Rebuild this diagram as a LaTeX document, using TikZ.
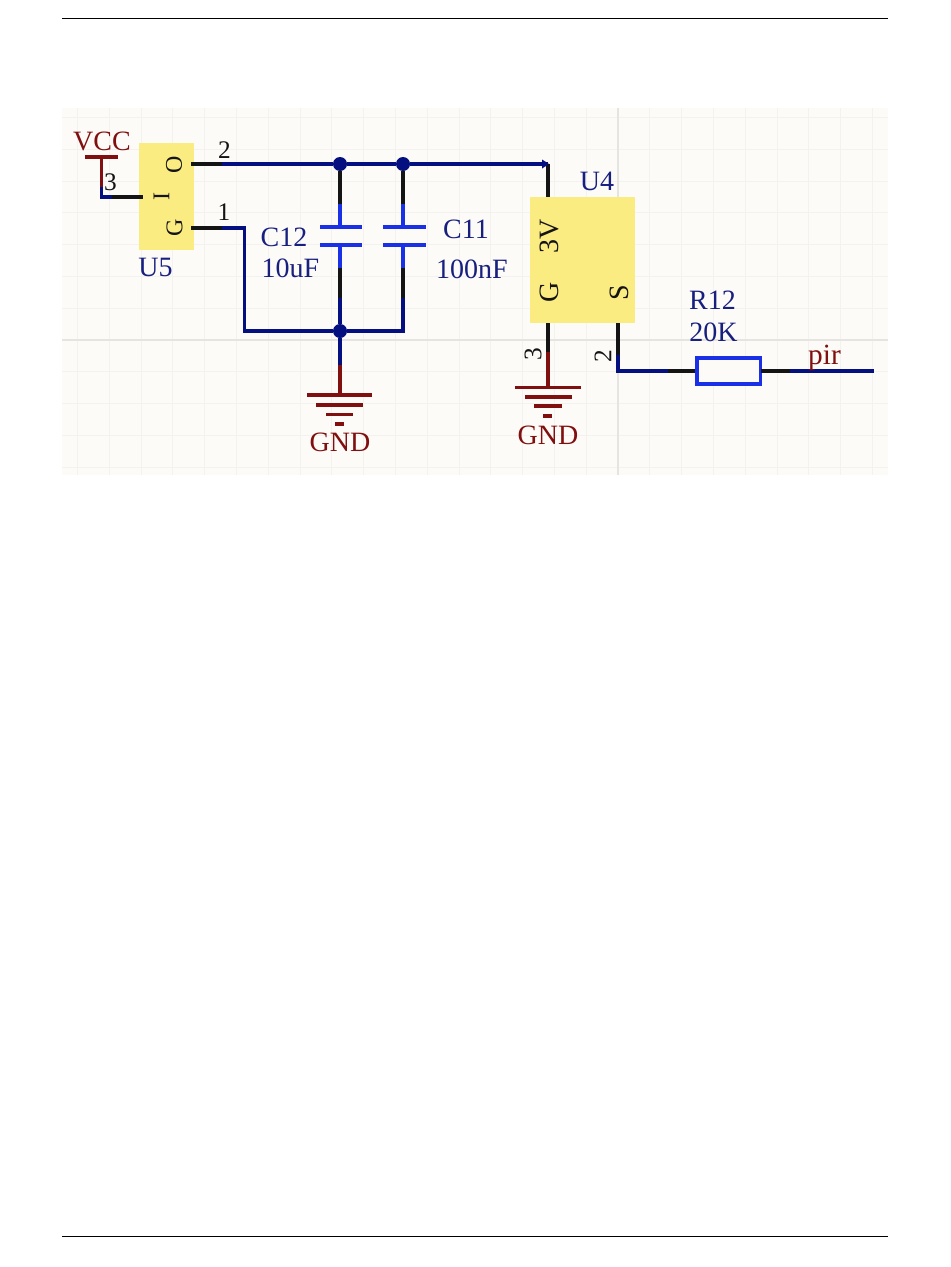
\documentclass[tikz,border=0pt]{standalone}
\usepackage{fontspec}
\setmainfont{Liberation Serif}
\definecolor{wireblue}{HTML}{04107F}
\definecolor{compblue}{HTML}{1A30E6}
\definecolor{labelblue}{HTML}{17207F}
\definecolor{pwrred}{HTML}{800F0F}
\definecolor{chipyellow}{HTML}{FBEC82}
\definecolor{bgpaper}{HTML}{FDFBF8}
\definecolor{gridline}{HTML}{F4F2EE}
\definecolor{gridmajor}{HTML}{E6E4E1}
\definecolor{pinblack}{HTML}{141414}
\tikzset{
  wire/.style={draw=wireblue,line width=2.3pt},
  pin/.style={draw=pinblack,line width=2.3pt},
  pwr/.style={draw=pwrred,line width=2.3pt},
  comp/.style={draw=compblue,line width=2.3pt},
  chip/.style={fill=chipyellow,draw=none},
  junction/.style={circle,fill=wireblue,draw=none,minimum size=10.5pt,inner sep=0pt},
  lblblue/.style={text=labelblue,font=\fontsize{21}{21}\selectfont,inner sep=0pt},
  lblred/.style={text=pwrred,font=\fontsize{21}{21}\selectfont,inner sep=0pt},
  pinnum/.style={text=pinblack,font=\fontsize{19}{19}\selectfont,inner sep=0pt},
  pinname/.style={text=pinblack,font=\fontsize{18}{18}\selectfont,inner sep=0pt,rotate=90},
  pinnamelg/.style={pinname,font=\fontsize{21}{21}\selectfont},
}
\begin{document}
\begin{tikzpicture}[x=0.75pt,y=-0.75pt]
\useasboundingbox (0,0) rectangle (950,1267);
% page rules
\draw[black,line width=0.6pt] (62,18) -- (888,18);
\draw[black,line width=0.6pt] (62,1236) -- (888,1236);
% background and grid
\fill[bgpaper] (62,108) rectangle (888,475);
\foreach \k in {-17,...,-1,1,2,...,8} {
  \draw[gridline,line width=0.75pt] ({618+31.8*\k},108) -- ({618+31.8*\k},475);
}
\foreach \k in {-7,...,-1,1,2,3,4} {
  \draw[gridline,line width=0.75pt] (62,{340+31.8*\k}) -- (888,{340+31.8*\k});
}
\draw[gridmajor,line width=0.9pt] (618,108) -- (618,475);
\draw[gridmajor,line width=0.9pt] (62,340) -- (888,340);
% chips
\path[chip] (139,143) rectangle (194,250);
\path[chip] (530,197) rectangle (635,323);
% named points
\coordinate (u5o) at (191,164);
\coordinate (u5ow) at (222,164);
\coordinate (u5i) at (143,197);
\coordinate (u5iw) at (112,197);
\coordinate (u5g) at (191,228);
\coordinate (u5gw) at (222,228);
\coordinate (vcccorner) at (101.5,197);
\coordinate (vcctop) at (101.5,157);
\coordinate (vccmid) at (101.5,187);
\node[junction] (j1) at (340,164) {};
\node[junction] (j2) at (403,164) {};
\node[junction] (j3) at (340,331) {};
\coordinate (gcorner) at (244.5,228);
\coordinate (gbot) at (244.5,331);
\coordinate (c11bot) at (403,331);
\coordinate (u4corner) at (548,164);
\coordinate (u4top) at (548,197);
\coordinate (u4gt) at (548,323);
\coordinate (u4gm) at (548,352);
\coordinate (u4gb) at (548,387);
\coordinate (u4st) at (618,323);
\coordinate (u4sm) at (618,355);
\coordinate (u4sc) at (618,371);
\coordinate (rl) at (668,371);
\coordinate (rr) at (790,371);
\coordinate (pirend) at (874,371);
\coordinate (g1m) at (340,365);
\coordinate (g1b) at (340,395);
% VCC port
\draw[pwr] (85,157) -- (118,157);
\draw[pwr] (vcctop) -- (vccmid);
\draw[wire] (vccmid) -- (vcccorner) -- (u5iw);
\draw[pin] (u5iw) -- (u5i);
% top rail
\draw[pin] (u5o) -- (u5ow);
\draw[wire] (u5ow) -- (j1) -- (j2) -- (u4corner);
\draw[pin] (u4corner) -- (u4top);
\fill[wireblue] (549,164) -- (542,159.5) -- (542,168.5) -- cycle;
% ground rail
\draw[pin] (u5g) -- (u5gw);
\draw[wire] (u5gw) -- (gcorner) -- (gbot) -- (j3) -- (c11bot) -- (403,298);
% C12
\draw[pin] (j1) -- (340,204);
\draw[comp] (340,204) -- (340,227);
\draw[comp] (320,227) -- (362,227);
\draw[comp] (320,245) -- (362,245);
\draw[comp] (340,245) -- (340,268);
\draw[pin] (340,268) -- (340,298);
\draw[wire] (340,298) -- (j3);
% C11
\draw[pin] (j2) -- (403,204);
\draw[comp] (403,204) -- (403,227);
\draw[comp] (383,227) -- (426,227);
\draw[comp] (383,245) -- (426,245);
\draw[comp] (403,245) -- (403,268);
\draw[pin] (403,268) -- (403,298);
% GND 1
\draw[wire] (j3) -- (g1m);
\draw[pwr] (g1m) -- (g1b);
\draw[pwr] (307,395) -- (372,395);
\draw[pwr] (316,405) -- (363,405);
\draw[pwr] (326,414.5) -- (353,414.5);
\draw[pwr] (335,424) -- (344,424);
% U4 G and GND 2
\draw[pin] (u4gt) -- (u4gm);
\draw[pwr] (u4gm) -- (u4gb);
\draw[pwr] (515,387.5) -- (581,387.5);
\draw[pwr] (525,397) -- (572,397);
\draw[pwr] (534,406) -- (562,406);
\draw[pwr] (543,416) -- (552,416);
% U4 S to R12 to pir
\draw[pin] (u4st) -- (u4sm);
\draw[wire] (u4sm) -- (u4sc) -- (rl);
\draw[pin] (rl) -- (697,371);
\draw[comp,fill=bgpaper] (697,358) rectangle (760.5,384);
\draw[pin] (760.5,371) -- (rr);
\draw[wire] (rr) -- (pirend);
% labels
\node[lblred] (vcc) at (102,141) {VCC};
\node[pinnum] (n3a) at (110.5,182) {3};
\node[pinnum] (n2a) at (224.5,150) {2};
\node[pinnum] (n1a) at (224,212.5) {1};
\node[lblblue] (u5) at (155.5,267) {U5};
\node[lblblue] (c12) at (284,237) {C12};
\node[lblblue] (c12v) at (290.5,268.5) {10uF};
\node[lblblue] (c11) at (466,229) {C11};
\node[lblblue] (c11v) at (472,269) {100nF};
\node[lblblue] (u4) at (597,181.5) {U4};
\node[lblblue] (r12) at (712.5,300.5) {R12};
\node[lblblue] (r12v) at (713.5,332.5) {20K};
\node[lblred,font=\fontsize{22}{22}\selectfont] (pir) at (824.5,358) {pir};
\node[lblred] (gnd1) at (340,442.5) {GND};
\node[lblred] (gnd2) at (548,435.5) {GND};
\node[pinname] (po) at (174,165) {O};
\node[pinname] (pi) at (161.5,197) {I};
\node[pinname] (pg) at (174.5,228) {G};
\node[pinnamelg] (p3v) at (549,236) {3V};
\node[pinnamelg] (pgu) at (549,292) {G};
\node[pinnamelg] (ps) at (619,293) {S};
\node[pinnum,rotate=90] (n3b) at (533,354) {3};
\node[pinnum,rotate=90] (n2b) at (603,356) {2};
\end{tikzpicture}
\end{document}
